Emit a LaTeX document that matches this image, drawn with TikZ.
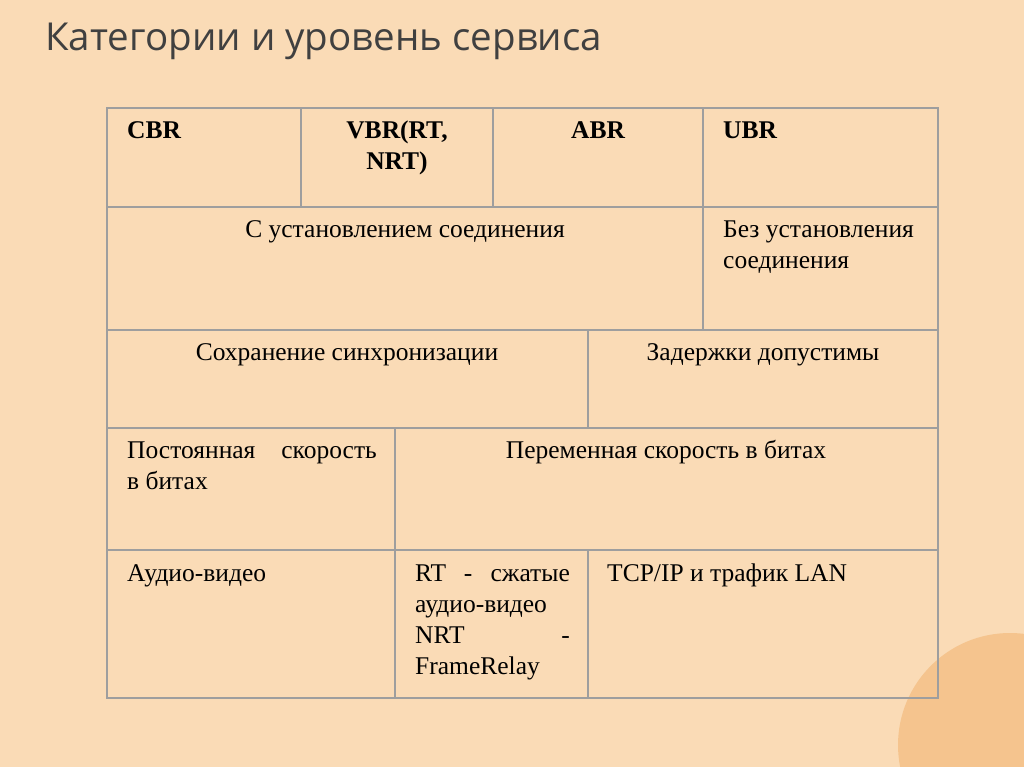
\documentclass[tikz,border=0pt]{standalone}
\usepackage{fontspec}
\setmainfont{Liberation Serif}
\newfontfamily\titlefont{Open Sans}
\definecolor{bgpeach}{RGB}{250,219,182}
\definecolor{circpeach}{RGB}{245,196,142}
\begin{document}
\begin{tikzpicture}[x=1pt,y=-1pt,
  grid/.style={draw=black!38,line width=1.3pt},
  txt/.style={font=\fontsize{25.5}{30}\selectfont,inner sep=0pt,anchor=base},
  lt/.style={txt,anchor=base west},
  rt/.style={txt,anchor=base east},
  bf/.style={font=\bfseries\fontsize{25.5}{30}\selectfont}]
\fill[bgpeach] (0,0) rectangle (1024,767);
\useasboundingbox (0,0) rectangle (1024,767);
\begin{scope}
\clip (0,0) rectangle (1024,767);
\fill[circpeach] (1010,745) circle (112);
\end{scope}
\node[font=\titlefont\fontsize{38.5}{44}\selectfont,text=black!75,anchor=base west,inner sep=0pt] (title) at (45,51) {Категории и уровень сервиса};
% grid
\draw[grid] (107,108) rectangle (938,698);
\foreach \y in {207,330,428,550} \draw[grid] (107,\y) -- (938,\y);
\draw[grid] (301,108) -- (301,207);
\draw[grid] (493,108) -- (493,207);
\draw[grid] (703,108) -- (703,330);
\draw[grid] (588,330) -- (588,428);
\draw[grid] (395,428) -- (395,698);
\draw[grid] (588,550) -- (588,698);
% row 1
\node[lt,bf] (cbr) at (127,139) {CBR};
\node[txt,bf] (vbr1) at (397,139) {VBR(RT,};
\node[txt,bf] (vbr2) at (397,170) {NRT)};
\node[txt,bf] (abr) at (598,139) {ABR};
\node[lt,bf] (ubr) at (723,139) {UBR};
% row 2
\node[txt] (r2a) at (405,237) {С установлением соединения};
\node[lt] (r2b1) at (723,237) {Без установления};
\node[lt] (r2b2) at (723,268) {соединения};
% row 3
\node[txt] (r3a) at (347,360) {Сохранение синхронизации};
\node[txt] (r3b) at (763,360) {Задержки допустимы};
% row 4
\node[lt] (r4a) at (127,458) {Постоянная};
\node[rt] (r4b) at (377,458) {скорость};
\node[lt] (r4d) at (127,489) {в битах};
\node[txt] (r4e) at (666,458) {Переменная скорость в битах};
% row 5
\node[lt] (r5a) at (127,581) {Аудио-видео};
\node[lt] (r5b) at (415,581) {RT};
\node[txt] (r5c) at (468,581) {-};
\node[rt] (r5d) at (570,581) {сжатые};
\node[lt] (r5e) at (415,612) {аудио-видео};
\node[lt] (r5f) at (415,643) {NRT};
\node[rt] (r5g) at (570,643) {-};
\node[lt] (r5h) at (415,674) {FrameRelay};
\node[lt] (r5i) at (607,581) {TCP/IP и трафик LAN};
\end{tikzpicture}
\end{document}
